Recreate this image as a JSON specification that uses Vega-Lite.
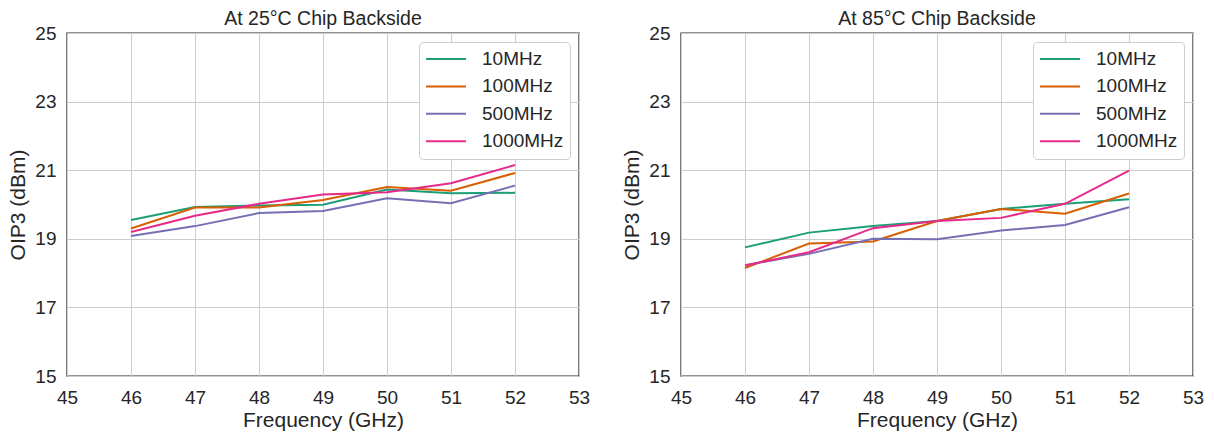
{
  "$schema": "https://vega.github.io/schema/vega-lite/v6.json",
  "padding": {"left": 7, "top": 7, "right": 5, "bottom": 0},
  "background": "white",
  "config": {
    "font": "Liberation Sans",
    "view": {"stroke": "#262626", "strokeWidth": 1.4},
    "axis": {
      "grid": true, "gridColor": "#cccccc", "gridWidth": 1,
      "domain": false, "ticks": false, "labelFlush": false,
      "labelFontSize": 19, "labelColor": "#262626", "labelPadding": 12,
      "titleFontSize": 21, "titleColor": "#262626", "titleFontWeight": "normal", "titlePadding": 2
    },
    "axisY": {"labelPadding": 11, "titlePadding": 6},
    "title": {"fontSize": 19.5, "fontWeight": "normal", "color": "#262626", "offset": -5},
    "legend": {
      "orient": "top-right", "offset": 9, "padding": 6,
      "fillColor": "white", "strokeColor": "#cccccc", "cornerRadius": 4,
      "symbolType": "stroke", "symbolSize": 1600, "symbolStrokeWidth": 2,
      "labelFontSize": 19, "labelColor": "#262626", "labelOffset": 15,
      "clipHeight": 22, "rowPadding": 5.4, "title": null
    }
  },
  "data": {"values": [
    {"panel": "25", "freq": 46, "series": "10MHz", "oip3": 19.55},
    {"panel": "25", "freq": 47, "series": "10MHz", "oip3": 19.93},
    {"panel": "25", "freq": 48, "series": "10MHz", "oip3": 19.97},
    {"panel": "25", "freq": 49, "series": "10MHz", "oip3": 19.99},
    {"panel": "25", "freq": 50, "series": "10MHz", "oip3": 20.44},
    {"panel": "25", "freq": 51, "series": "10MHz", "oip3": 20.33},
    {"panel": "25", "freq": 52, "series": "10MHz", "oip3": 20.34},
    {"panel": "25", "freq": 46, "series": "100MHz", "oip3": 19.30},
    {"panel": "25", "freq": 47, "series": "100MHz", "oip3": 19.91},
    {"panel": "25", "freq": 48, "series": "100MHz", "oip3": 19.91},
    {"panel": "25", "freq": 49, "series": "100MHz", "oip3": 20.13},
    {"panel": "25", "freq": 50, "series": "100MHz", "oip3": 20.51},
    {"panel": "25", "freq": 51, "series": "100MHz", "oip3": 20.40},
    {"panel": "25", "freq": 52, "series": "100MHz", "oip3": 20.92},
    {"panel": "25", "freq": 46, "series": "500MHz", "oip3": 19.08},
    {"panel": "25", "freq": 47, "series": "500MHz", "oip3": 19.37},
    {"panel": "25", "freq": 48, "series": "500MHz", "oip3": 19.75},
    {"panel": "25", "freq": 49, "series": "500MHz", "oip3": 19.81},
    {"panel": "25", "freq": 50, "series": "500MHz", "oip3": 20.18},
    {"panel": "25", "freq": 51, "series": "500MHz", "oip3": 20.04},
    {"panel": "25", "freq": 52, "series": "500MHz", "oip3": 20.55},
    {"panel": "25", "freq": 46, "series": "1000MHz", "oip3": 19.20},
    {"panel": "25", "freq": 47, "series": "1000MHz", "oip3": 19.67},
    {"panel": "25", "freq": 48, "series": "1000MHz", "oip3": 20.02},
    {"panel": "25", "freq": 49, "series": "1000MHz", "oip3": 20.29},
    {"panel": "25", "freq": 50, "series": "1000MHz", "oip3": 20.36},
    {"panel": "25", "freq": 51, "series": "1000MHz", "oip3": 20.62},
    {"panel": "25", "freq": 52, "series": "1000MHz", "oip3": 21.15},
    {"panel": "85", "freq": 46, "series": "10MHz", "oip3": 18.75},
    {"panel": "85", "freq": 47, "series": "10MHz", "oip3": 19.18},
    {"panel": "85", "freq": 48, "series": "10MHz", "oip3": 19.37},
    {"panel": "85", "freq": 49, "series": "10MHz", "oip3": 19.52},
    {"panel": "85", "freq": 50, "series": "10MHz", "oip3": 19.87},
    {"panel": "85", "freq": 51, "series": "10MHz", "oip3": 20.02},
    {"panel": "85", "freq": 52, "series": "10MHz", "oip3": 20.15},
    {"panel": "85", "freq": 46, "series": "100MHz", "oip3": 18.15},
    {"panel": "85", "freq": 47, "series": "100MHz", "oip3": 18.86},
    {"panel": "85", "freq": 48, "series": "100MHz", "oip3": 18.92},
    {"panel": "85", "freq": 49, "series": "100MHz", "oip3": 19.52},
    {"panel": "85", "freq": 50, "series": "100MHz", "oip3": 19.87},
    {"panel": "85", "freq": 51, "series": "100MHz", "oip3": 19.73},
    {"panel": "85", "freq": 52, "series": "100MHz", "oip3": 20.32},
    {"panel": "85", "freq": 46, "series": "500MHz", "oip3": 18.23},
    {"panel": "85", "freq": 47, "series": "500MHz", "oip3": 18.56},
    {"panel": "85", "freq": 48, "series": "500MHz", "oip3": 19.00},
    {"panel": "85", "freq": 49, "series": "500MHz", "oip3": 18.99},
    {"panel": "85", "freq": 50, "series": "500MHz", "oip3": 19.24},
    {"panel": "85", "freq": 51, "series": "500MHz", "oip3": 19.40},
    {"panel": "85", "freq": 52, "series": "500MHz", "oip3": 19.92},
    {"panel": "85", "freq": 46, "series": "1000MHz", "oip3": 18.22},
    {"panel": "85", "freq": 47, "series": "1000MHz", "oip3": 18.61},
    {"panel": "85", "freq": 48, "series": "1000MHz", "oip3": 19.31},
    {"panel": "85", "freq": 49, "series": "1000MHz", "oip3": 19.52},
    {"panel": "85", "freq": 50, "series": "1000MHz", "oip3": 19.61},
    {"panel": "85", "freq": 51, "series": "1000MHz", "oip3": 20.02},
    {"panel": "85", "freq": 52, "series": "1000MHz", "oip3": 20.99}
  ]},
  "resolve": {"legend": {"color": "independent"}},
  "spacing": 30,
  "hconcat": [
    {
      "title": "At 25°C Chip Backside",
      "width": 512, "height": 343,
      "transform": [{"filter": "datum.panel === '25'"}],
      "mark": {"type": "line", "strokeWidth": 2},
      "encoding": {
        "x": {"field": "freq", "type": "quantitative", "title": "Frequency (GHz)",
              "scale": {"domain": [45, 53], "nice": false, "zero": false},
              "axis": {"values": [45, 46, 47, 48, 49, 50, 51, 52, 53]}},
        "y": {"field": "oip3", "type": "quantitative", "title": "OIP3 (dBm)",
              "scale": {"domain": [15, 25], "nice": false, "zero": false},
              "axis": {"values": [15, 17, 19, 21, 23, 25]}},
        "color": {"field": "series", "type": "nominal",
                  "scale": {"domain": ["10MHz", "100MHz", "500MHz", "1000MHz"],
                            "range": ["#1b9e77", "#d95f02", "#7570b3", "#e7298a"]}},
        "order": {"field": "freq"}
      }
    },
    {
      "title": "At 85°C Chip Backside",
      "width": 512, "height": 343,
      "transform": [{"filter": "datum.panel === '85'"}],
      "mark": {"type": "line", "strokeWidth": 2},
      "encoding": {
        "x": {"field": "freq", "type": "quantitative", "title": "Frequency (GHz)",
              "scale": {"domain": [45, 53], "nice": false, "zero": false},
              "axis": {"values": [45, 46, 47, 48, 49, 50, 51, 52, 53]}},
        "y": {"field": "oip3", "type": "quantitative", "title": "OIP3 (dBm)",
              "scale": {"domain": [15, 25], "nice": false, "zero": false},
              "axis": {"values": [15, 17, 19, 21, 23, 25]}},
        "color": {"field": "series", "type": "nominal",
                  "scale": {"domain": ["10MHz", "100MHz", "500MHz", "1000MHz"],
                            "range": ["#1b9e77", "#d95f02", "#7570b3", "#e7298a"]}},
        "order": {"field": "freq"}
      }
    }
  ]
}
